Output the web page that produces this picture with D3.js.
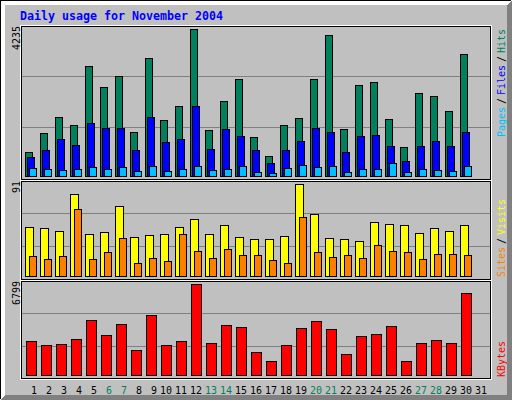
<!DOCTYPE html>
<html><head><meta charset="utf-8">
<script src="https://cdn.jsdelivr.net/npm/d3@7"></script>
<style>html,body{margin:0;padding:0;background:#fff}svg{display:block}</style>
</head><body>
<script>
const title = "Daily usage for November 2004";
const days = [1,2,3,4,5,6,7,8,9,10,11,12,13,14,15,16,17,18,19,20,21,22,23,24,25,26,27,28,29,30,31];
const hits   = [683,1230,1691,1461,3160,2555,2872,1259,3391,1605,2008,4235,1317,2152,2786,1115,568,1461,1662,2786,4053,1345,2613,2699,1633,827,2383,2296,1864,3506,0];
const files  = [539,740,1057,884,1518,1374,1374,740,1691,971,1057,2008,769,1345,1144,740,366,740,1000,1374,1259,683,1144,1173,856,423,856,1000,856,1259,0];
const pages  = [222,193,164,193,251,193,251,135,279,135,193,279,164,193,279,107,78,222,308,251,279,107,193,193,366,107,193,164,135,279,0];
const visits = [48,47,45,81,42,44,69,39,41,42,48,56,42,50,39,37,37,40,91,61,38,37,35,53,51,50,43,47,45,50,0];
const sites  = [20,17,20,66,17,24,38,13,18,15,42,25,18,27,21,21,16,13,58,24,19,21,18,31,25,24,17,22,22,21,0];
const kbytes = [2518,2219,2294,2667,4087,2966,3788,1845,4460,2219,2518,6799,2368,3713,3564,1696,1024,2219,3489,4012,3414,1547,2891,3041,3638,1024,2368,2593,2368,6104,0];

const C = {bg:"#C0C0C0", grid:"#808080", dk:"#808080", hits:"#00805C", files:"#0000FF", pages:"#00C0FF",
           sites:"#FF8000", visits:"#FFFF00", kbytes:"#FF0000", title:"#0000FF"};
const W = 512, H = 400;
const font = "'DejaVu Sans Mono', 'Liberation Mono', monospace";

const svg = d3.select("body").append("svg").attr("width", W).attr("height", H)
  .attr("shape-rendering", "crispEdges");

svg.append("rect").attr("width", W).attr("height", H).attr("fill", C.bg);
// 3D frame
const frame = svg.append("g");
for (let i = 0; i < 5; i++) {
  frame.append("line").attr("x1", i).attr("y1", i + 0.5).attr("x2", W - i).attr("y2", i + 0.5).attr("stroke", "#fff");
  frame.append("line").attr("x1", i + 0.5).attr("y1", i).attr("x2", i + 0.5).attr("y2", H - i).attr("stroke", "#fff");
}
for (let i = 0; i < 5; i++) {
  frame.append("line").attr("x1", i + 1).attr("y1", H - i - 0.5).attr("x2", W - i).attr("y2", H - i - 0.5).attr("stroke", C.dk);
  frame.append("line").attr("x1", W - i - 0.5).attr("y1", i + 1).attr("x2", W - i - 0.5).attr("y2", H - i).attr("stroke", C.dk);
}
frame.append("line").attr("x1", 0).attr("y1", 0.5).attr("x2", W - 1).attr("y2", 0.5).attr("stroke", "#000");
frame.append("line").attr("x1", 0.5).attr("y1", 0).attr("x2", 0.5).attr("y2", H - 1).attr("stroke", "#000");

// title
svg.append("text").attr("x", 20).attr("y", 20).text(title)
  .attr("font-family", font).attr("font-weight", "bold").attr("font-size", 12)
  .attr("textLength", title.length * 7).attr("lengthAdjust", "spacingAndGlyphs")
  .attr("fill", C.title);

// x band scale
const x = d3.scaleBand().domain(days).range([25, 25 + 15 * days.length]).paddingInner(0).paddingOuter(0);

// panels
const panels = [
  {top: 26, bot: 179, base: 176, h: 147, grid: [76, 127]},
  {top: 181, bot: 279, base: 276, h: 92, grid: [213, 246]},
  {top: 281, bot: 378, base: 375, h: 91, grid: [313, 346]}
];
panels.forEach(p => {
  svg.append("rect").attr("x", 20.5).attr("y", p.top - 0.5).attr("width", 471).attr("height", p.bot - p.top + 2)
    .attr("fill", "none").attr("stroke", "#fff");
  svg.append("rect").attr("x", 21.5).attr("y", p.top + 0.5).attr("width", 469).attr("height", p.bot - p.top)
    .attr("fill", C.bg).attr("stroke", "#000");
  p.grid.forEach(gy => svg.append("line").attr("x1", 22).attr("x2", 490).attr("y1", gy + 0.5).attr("y2", gy + 0.5)
    .attr("stroke", C.grid));
});

function bars(data, p, max, off1, off2, color) {
  const y = d3.scaleLinear().domain([0, max]).range([p.base, p.base - p.h]);
  svg.append("g").selectAll("rect").data(days.map((d, i) => ({d, v: data[i]})).filter(o => o.v > 0))
    .join("rect")
    .attr("x", o => x(o.d) + off1 + 0.5)
    .attr("width", off2 - off1)
    .attr("y", o => Math.round(y(o.v)) + 0.5)
    .attr("height", o => p.base - Math.round(y(o.v)))
    .attr("fill", color).attr("stroke", "#000");
}
const maxTop = d3.max(hits), maxMid = d3.max(visits), maxBot = d3.max(kbytes);
bars(hits, panels[0], maxTop, 0, 7, C.hits);
bars(files, panels[0], maxTop, 2, 9, C.files);
bars(pages, panels[0], maxTop, 4, 11, C.pages);
bars(visits, panels[1], maxMid, 0, 8, C.visits);
bars(sites, panels[1], maxMid, 4, 11, C.sites);
bars(kbytes, panels[2], maxBot, 1, 11, C.kbytes);

// y max labels (rotated)
function upText(txt, xb, ystart, color) {
  svg.append("text").attr("transform", `translate(${xb},${ystart}) rotate(-90)`)
    .attr("font-family", font).attr("font-size", 11)
    .attr("textLength", txt.length * 6).attr("lengthAdjust", "spacingAndGlyphs")
    .attr("fill", color).text(txt);
}
upText(String(maxTop), 19.5, 26 + String(maxTop).length * 6, "#000");
upText(String(maxMid), 19.5, 181 + String(maxMid).length * 6, "#000");
upText(String(maxBot), 19.5, 281 + String(maxBot).length * 6, "#000");

// right legends
upText("Pages", 504.5, 137, C.pages);
upText("/", 504.5, 104, "#000");
upText("Files", 504.5, 95, C.files);
upText("/", 504.5, 62, "#000");
upText("Hits", 504.5, 53, C.hits);
upText("Sites", 504.5, 277, C.sites);
upText("/", 504.5, 244, "#000");
upText("Visits", 504.5, 235, C.visits);
upText("KBytes", 504.5, 377, C.kbytes);

// x day labels
const weekend = d => { const w = new Date(2004, 10, d).getDay(); return w === 0 || w === 6; };
svg.append("g").selectAll("text").data(days).join("text")
  .attr("x", d => x(d) + (d < 10 ? 6 : 0))
  .attr("y", 394)
  .attr("font-family", font).attr("font-size", 11)
  .attr("textLength", d => String(d).length * 6).attr("lengthAdjust", "spacingAndGlyphs")
  .attr("fill", d => weekend(d) ? C.hits : "#000")
  .text(d => d);
</script>
</body></html>
